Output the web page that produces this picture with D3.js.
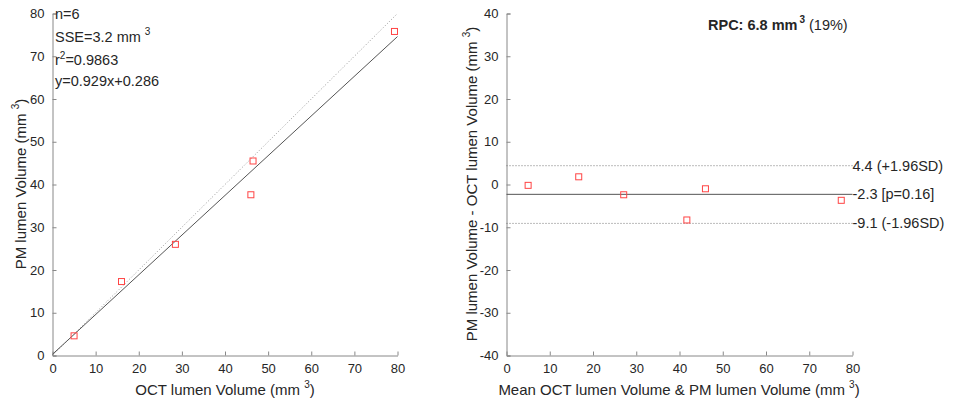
<!DOCTYPE html>
<html>
<head>
    <meta charset="utf-8">
    <title>Regression and Bland-Altman</title>
    <script src="https://d3js.org/d3.v7.min.js"></script>
    <style>
        body { margin: 0; background-color: white; }
        svg text { font-family: "Liberation Sans", Arial, sans-serif; fill: #262626; }
    </style>
</head>
<body>
    <script>
        // data
        const octVolume = [5, 16, 28.5, 46, 46.5, 79.3];
        const pmVolume = [4.6, 17.3, 26, 37.6, 45.5, 75.8];
        const meanVolume = [5.0, 16.7, 27.1, 41.7, 46.0, 77.4];
        const diffVolume = [-0.2, 1.8, -2.4, -8.3, -1.0, -3.7];
        const fitSlope = 0.929, fitIntercept = 0.286;
        const meanDiff = -2.3, upperLoA = 4.4, lowerLoA = -9.1;
        const statLines = ["n=6", "SSE=3.2 mm", "r2=0.9863", "y=0.929x+0.286"];
        const xTicks = [0, 10, 20, 30, 40, 50, 60, 70, 80];
        const yTicksLeft = [0, 10, 20, 30, 40, 50, 60, 70, 80];
        const yTicksRight = [-40, -30, -20, -10, 0, 10, 20, 30, 40];

        const svg = d3.select("body").append("svg")
            .attr("width", 956)
            .attr("height", 404);

        const axisColor = "#888";
        const lineColor = "#555";
        const tickFont = "13px";
        const textFont = "14.5px";
        const labelFont = "15px";

        function styleAxis(g) {
            g.select(".domain").attr("stroke", axisColor);
            g.selectAll(".tick line").attr("stroke", axisColor);
            g.selectAll(".tick text").style("font-size", tickFont).attr("fill", "#262626");
        }

        function drawSquares(g, xs, ys, x, y) {
            g.selectAll(".pt")
                .data(xs.map((v, i) => [v, ys[i]]))
                .enter().append("rect")
                .attr("class", "pt")
                .attr("x", d => x(d[0]) - 3)
                .attr("y", d => y(d[1]) - 3)
                .attr("width", 6)
                .attr("height", 6)
                .attr("fill", "none")
                .attr("stroke", "#f44")
                .attr("stroke-width", 1);
        }

        // superscript-3 helper for "(mm 3)" style labels
        function addCube(t, closing) {
            t.append("tspan").attr("dy", -7).style("font-size", "10px").text("3");
            if (closing) t.append("tspan").attr("dy", 7).text(")");
        }

        // ---------- left: regression ----------
        const x1 = d3.scaleLinear().domain([0, 80]).range([52.5, 397.5]);
        const y1 = d3.scaleLinear().domain([0, 80]).range([355.5, 13.5]);
        const left = svg.append("g");

        left.append("g")
            .attr("transform", "translate(0,355.5)")
            .call(d3.axisBottom(x1).tickValues(xTicks).tickSize(-4).tickSizeOuter(0).tickPadding(8))
            .call(styleAxis);
        left.append("g")
            .attr("transform", "translate(52.5,0)")
            .call(d3.axisLeft(y1).tickValues(yTicksLeft).tickSize(-4).tickSizeOuter(-4).tickPadding(8))
            .call(styleAxis);

        // identity line (dotted)
        left.append("line")
            .attr("x1", x1(0)).attr("y1", y1(0))
            .attr("x2", x1(80)).attr("y2", y1(80))
            .attr("stroke", "#999").attr("stroke-dasharray", "1,2");
        // fit line
        left.append("line")
            .attr("x1", x1(0)).attr("y1", y1(fitIntercept))
            .attr("x2", x1(80)).attr("y2", y1(fitSlope * 80 + fitIntercept))
            .attr("stroke", lineColor);

        drawSquares(left, octVolume, pmVolume, x1, y1);

        // statistics text
        const statY = [19, 42, 65, 86];
        statLines.forEach((s, i) => {
            const t = left.append("text")
                .attr("x", 55).attr("y", statY[i])
                .style("font-size", textFont);
            if (i === 1) {
                t.text(s);
                t.append("tspan").attr("dx", 4).attr("dy", -7).style("font-size", "10px").text("3");
            } else if (i === 2) {
                t.text("r");
                t.append("tspan").attr("dy", -6).style("font-size", "10px").text("2");
                t.append("tspan").attr("dy", 6).text("=0.9863");
            } else {
                t.text(s);
            }
        });

        // axis labels
        const xl1 = left.append("text")
            .attr("x", 225).attr("y", 395)
            .attr("text-anchor", "middle")
            .style("font-size", labelFont)
            .text("OCT lumen Volume (mm ");
        addCube(xl1, true);

        const yl1 = left.append("text")
            .attr("transform", "translate(26,184) rotate(-90)")
            .attr("text-anchor", "middle")
            .style("font-size", labelFont)
            .text("PM lumen Volume (mm ");
        addCube(yl1, true);

        // ---------- right: Bland-Altman ----------
        const x2 = d3.scaleLinear().domain([0, 80]).range([506.5, 852.5]);
        const y2 = d3.scaleLinear().domain([-40, 40]).range([355.5, 13.5]);
        const right = svg.append("g");

        right.append("g")
            .attr("transform", "translate(0,355.5)")
            .call(d3.axisBottom(x2).tickValues(xTicks).tickSize(-4).tickSizeOuter(0).tickPadding(8))
            .call(styleAxis);
        right.append("g")
            .attr("transform", "translate(506.5,0)")
            .call(d3.axisLeft(y2).tickValues(yTicksRight).tickFormat(d => String(d)).tickSize(-4).tickSizeOuter(-4).tickPadding(8))
            .call(styleAxis);

        [upperLoA, lowerLoA].forEach(v => {
            right.append("line")
                .attr("x1", x2(0)).attr("x2", x2(80))
                .attr("y1", y2(v)).attr("y2", y2(v))
                .attr("stroke", "#777").attr("stroke-dasharray", "1,2");
        });
        right.append("line")
            .attr("x1", x2(0)).attr("x2", x2(80))
            .attr("y1", y2(meanDiff)).attr("y2", y2(meanDiff))
            .attr("stroke", lineColor);

        drawSquares(right, meanVolume, diffVolume, x2, y2);

        const loaLabels = [
            [upperLoA, "4.4 (+1.96SD)"],
            [meanDiff, "-2.3 [p=0.16]"],
            [lowerLoA, "-9.1 (-1.96SD)"]
        ];
        loaLabels.forEach(d => {
            right.append("text")
                .attr("x", x2(80))
                .attr("y", y2(d[0]))
                .attr("dy", "0.35em")
                .style("font-size", textFont)
                .text(d[1]);
        });

        // RPC
        const rpc = right.append("text")
            .attr("x", 708).attr("y", 30)
            .style("font-size", textFont)
            .style("font-weight", "bold")
            .text("RPC: 6.8 mm");
        rpc.append("tspan").attr("dx", 2).attr("dy", -7).style("font-size", "10px").text("3");
        rpc.append("tspan").attr("dx", 4).attr("dy", 7).style("font-weight", "normal").text("(19%)");

        const xl2 = right.append("text")
            .attr("x", 679).attr("y", 395)
            .attr("text-anchor", "middle")
            .style("font-size", labelFont)
            .text("Mean OCT lumen Volume & PM lumen Volume (mm  ");
        addCube(xl2, true);

        const yl2 = right.append("text")
            .attr("transform", "translate(477,184) rotate(-90)")
            .attr("text-anchor", "middle")
            .style("font-size", labelFont)
            .text("PM lumen Volume - OCT lumen Volume (mm  ");
        addCube(yl2, true);
    </script>
</body>
</html>
